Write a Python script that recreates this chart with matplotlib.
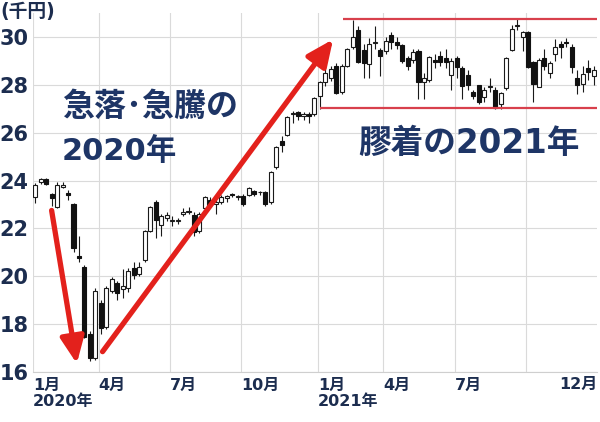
import matplotlib
matplotlib.use("Agg")
import matplotlib.pyplot as plt
import numpy as np

# ---------------- data (thousand yen, weekly candles Jan 2020 - Dec 2021) ----------------
opens = [23.3, 23.95, 24.05, 23.45, 22.9, 23.75, 23.5, 23.0, 20.85, 20.4,
         17.6, 16.6, 18.9, 17.9, 19.4, 19.7, 19.45, 19.5, 20.35, 20.1,
         20.7, 21.9, 23.1, 22.15, 22.45, 22.3, 22.3, 22.6, 22.7, 22.55,
         21.9, 22.85, 23.2, 23.0, 23.1, 23.25, 23.45, 23.3, 23.35, 23.4,
         23.55, 23.5, 23.5, 23.1, 24.55, 25.65, 25.9, 26.8, 26.85, 26.7,
         26.8, 26.8,
         27.55, 28.1, 28.3, 28.8, 27.7, 28.8, 29.6, 30.3, 29.45, 28.85,
         29.75, 29.45, 29.4, 30.1, 29.8, 29.65, 29.1, 29.05, 29.4, 28.1,
         28.2, 29.05, 29.2, 29.1, 28.4, 29.1, 28.7, 28.4, 27.7, 28.0,
         27.5, 27.9, 27.8, 27.2, 27.85, 29.45, 30.45, 30.0, 30.2, 28.95,
         27.9, 29.1, 28.5, 29.3, 29.7, 29.8, 29.6, 28.3, 28.05, 28.7,
         28.35]
highs = [23.9, 24.1, 24.1, 23.5, 23.95, 23.95, 23.6, 23.05, 21.7, 20.45,
         17.7, 19.5, 19.0, 19.6, 19.95, 19.8, 20.3, 20.35, 20.6, 20.6,
         21.95, 22.95, 23.2, 22.6, 22.7, 22.5, 22.45, 22.85, 22.9, 22.7,
         22.7, 23.35, 23.3, 23.2, 23.4, 23.4, 23.5, 23.4, 23.45, 23.75,
         23.6, 23.55, 23.55, 24.4, 25.45, 25.85, 26.7, 26.9, 26.9, 26.85,
         26.85, 27.5,
         28.15, 28.95, 28.8, 28.9, 28.85, 29.55, 30.7, 30.45, 29.7, 29.95,
         30.45, 29.55, 30.0, 30.2, 30.0, 29.7, 29.2, 29.5, 29.5, 28.5,
         29.2, 29.3, 29.4, 29.5, 29.1, 29.2, 28.8, 28.6, 27.8, 28.0,
         27.9, 28.3, 27.9, 27.7, 29.15, 30.5, 30.8, 30.25, 30.25, 29.0,
         29.1, 29.5, 29.0, 29.9, 29.85, 29.95, 29.7, 28.6, 28.8, 29.05,
         28.8]
lows = [23.05, 23.85, 23.8, 22.95, 22.85, 23.7, 23.2, 21.0, 20.6, 17.4,
        16.45, 16.5, 17.6, 17.8, 19.3, 19.0, 19.1, 19.35, 19.9, 20.0,
        20.6, 21.85, 21.6, 21.7, 22.3, 22.1, 22.2, 22.5, 22.6, 21.7,
        21.8, 22.7, 22.9, 22.6, 23.0, 23.1, 23.3, 23.2, 22.95, 23.35,
        23.35, 23.4, 22.95, 23.0, 24.5, 25.2, 25.85, 26.4, 26.55, 26.55,
        26.4, 26.7,
        27.0, 27.95, 28.15, 27.6, 27.6, 28.75, 29.5, 28.9, 28.3, 28.3,
        29.5, 28.35, 29.3, 29.5, 29.5, 28.9, 28.6, 28.9, 27.4, 27.4,
        28.1, 28.7, 28.8, 28.7, 27.8, 28.3, 27.4, 27.8, 27.4, 27.2,
        27.3, 27.7, 27.0, 27.0, 27.8, 29.4, 30.3, 29.4, 28.7, 27.3,
        27.9, 28.6, 28.3, 29.0, 29.1, 29.6, 28.5, 27.6, 27.7, 28.2,
        28.0]
closes = [23.8, 24.05, 23.85, 23.27, 23.8, 23.8, 23.4, 21.2, 20.75, 17.45,
          16.6, 19.4, 17.85, 19.5, 19.9, 19.3, 19.6, 20.2, 20.05, 20.4,
          21.9, 22.9, 22.35, 22.5, 22.55, 22.32, 22.3, 22.7, 22.72, 21.85,
          22.6, 23.3, 23.0, 23.1, 23.3, 23.35, 23.38, 23.3, 23.0, 23.7,
          23.45, 23.5, 23.0, 24.35, 25.4, 25.5, 26.65, 26.82, 26.7, 26.78,
          26.7, 27.45,
          28.1, 28.5, 28.65, 27.65, 28.8, 29.5, 30.0, 28.95, 28.9, 29.7,
          29.8, 29.2, 29.85, 29.8, 29.65, 29.0, 28.8, 29.35, 28.1, 28.3,
          29.15, 28.95, 28.95, 28.95, 29.0, 28.75, 27.95, 28.0, 27.55, 27.3,
          27.8, 27.95, 27.05, 27.65, 29.1, 30.35, 30.5, 30.2, 28.75, 28.05,
          29.05, 28.8, 28.9, 29.6, 29.6, 29.75, 28.75, 28.0, 28.45, 28.55,
          28.6]

# x-axis: week index of the first week of each labelled month
tick_weeks = [0, 12, 25, 38, 52, 64, 77, 90]
tick_labels = ["1月\n2020年", "4月", "7月", "10月", "1月\n2021年", "4月", "7月", ""]
last_label = "12月"
y_ticks = [16, 18, 20, 22, 24, 26, 28, 30]
unit_label = "(千円)"

# 2021 trading range lines (thousand yen)
range_high = 30.75
range_low = 27.03

# ---------------- drawing ----------------
plt.rcParams['font.family'] = ['DejaVu Sans', 'Noto Sans CJK JP']
NAVY = '#1c2d4f'
TXT = '#1e3566'
RED = '#e3211c'

fig = plt.figure(figsize=(6.0, 4.22), dpi=100)
ax = fig.add_axes([33/600, 1-372/422, (597-33)/600, (372-13)/422])

o = np.array(opens); h = np.array(highs); l = np.array(lows); c = np.array(closes)
x = np.arange(len(o))
up = c >= o
bottom = np.minimum(o, c)
height = np.maximum(np.abs(c - o), 0.04)

ax.vlines(x, l, h, color='#1a1a1a', lw=0.8, zorder=2)
ax.bar(x[up], height[up], bottom=bottom[up], width=0.74,
       color='white', edgecolor='#1a1a1a', linewidth=0.8, zorder=3)
ax.bar(x[~up], height[~up], bottom=bottom[~up], width=0.74,
       color='#111111', edgecolor='#111111', linewidth=0.8, zorder=3)

ax.set_xlim(-0.4, len(o) - 0.4)
ax.set_ylim(16, 31)

ax.set_yticks(y_ticks)
ax.set_yticklabels([str(v) for v in y_ticks], fontsize=15, fontweight='bold', color=NAVY)
grid_x = [t - 0.4 for t in tick_weeks]
ax.set_xticks(grid_x)
ax.set_xticklabels(tick_labels, fontsize=11.5, fontweight='bold', color=NAVY,
                   ha='left', linespacing=1.15)
ax.tick_params(axis='both', length=0)
ax.tick_params(axis='y', pad=3)
ax.tick_params(axis='x', pad=4)
ax.grid(True, color='#dadada', lw=0.8, zorder=0)
ax.set_axisbelow(True)
for s in ['top', 'right', 'left']:
    ax.spines[s].set_visible(False)
ax.spines['bottom'].set_color('#cfcfcf')
ax.spines['bottom'].set_linewidth(0.8)

ax.text(1.0, -0.015, last_label, transform=ax.transAxes, ha='right', va='top',
        fontsize=11.5, fontweight='bold', color=NAVY)
fig.text(0.0, 1 - 12/422, unit_label, ha='left', va='center',
         fontsize=13.5, fontweight='bold', color=NAVY)

# range lines
ax.hlines(range_high, 56.2, len(o) - 0.4, color='#d8404c', lw=1.6, zorder=4)
ax.hlines(range_low, 52.0, len(o) - 0.4, color='#d8404c', lw=1.6, zorder=4)

# arrows
arrow = dict(arrowstyle='-|>,head_length=0.8,head_width=0.36', color=RED, lw=3.8,
             mutation_scale=20, shrinkA=0, shrinkB=0)
ax.annotate('', xy=(7.6, 16.35), xytext=(3.0, 22.75), arrowprops=arrow, zorder=5)
ax.annotate('', xy=(54.4, 29.9), xytext=(12.3, 16.85), arrowprops=arrow, zorder=5)

# big captions
fig.text(62/600, 1 - 107/422, "急落･急騰の", ha='left', va='center',
         fontsize=23, fontweight='bold', color=TXT)
fig.text(62/600, 1 - 151/422, "2020年", ha='left', va='center',
         fontsize=22, fontweight='bold', color=TXT)
fig.text(358/600, 1 - 143/422, "膠着の2021年", ha='left', va='center',
         fontsize=23.5, fontweight='bold', color=TXT)

fig.savefig("out.png", dpi=100, facecolor='white')
